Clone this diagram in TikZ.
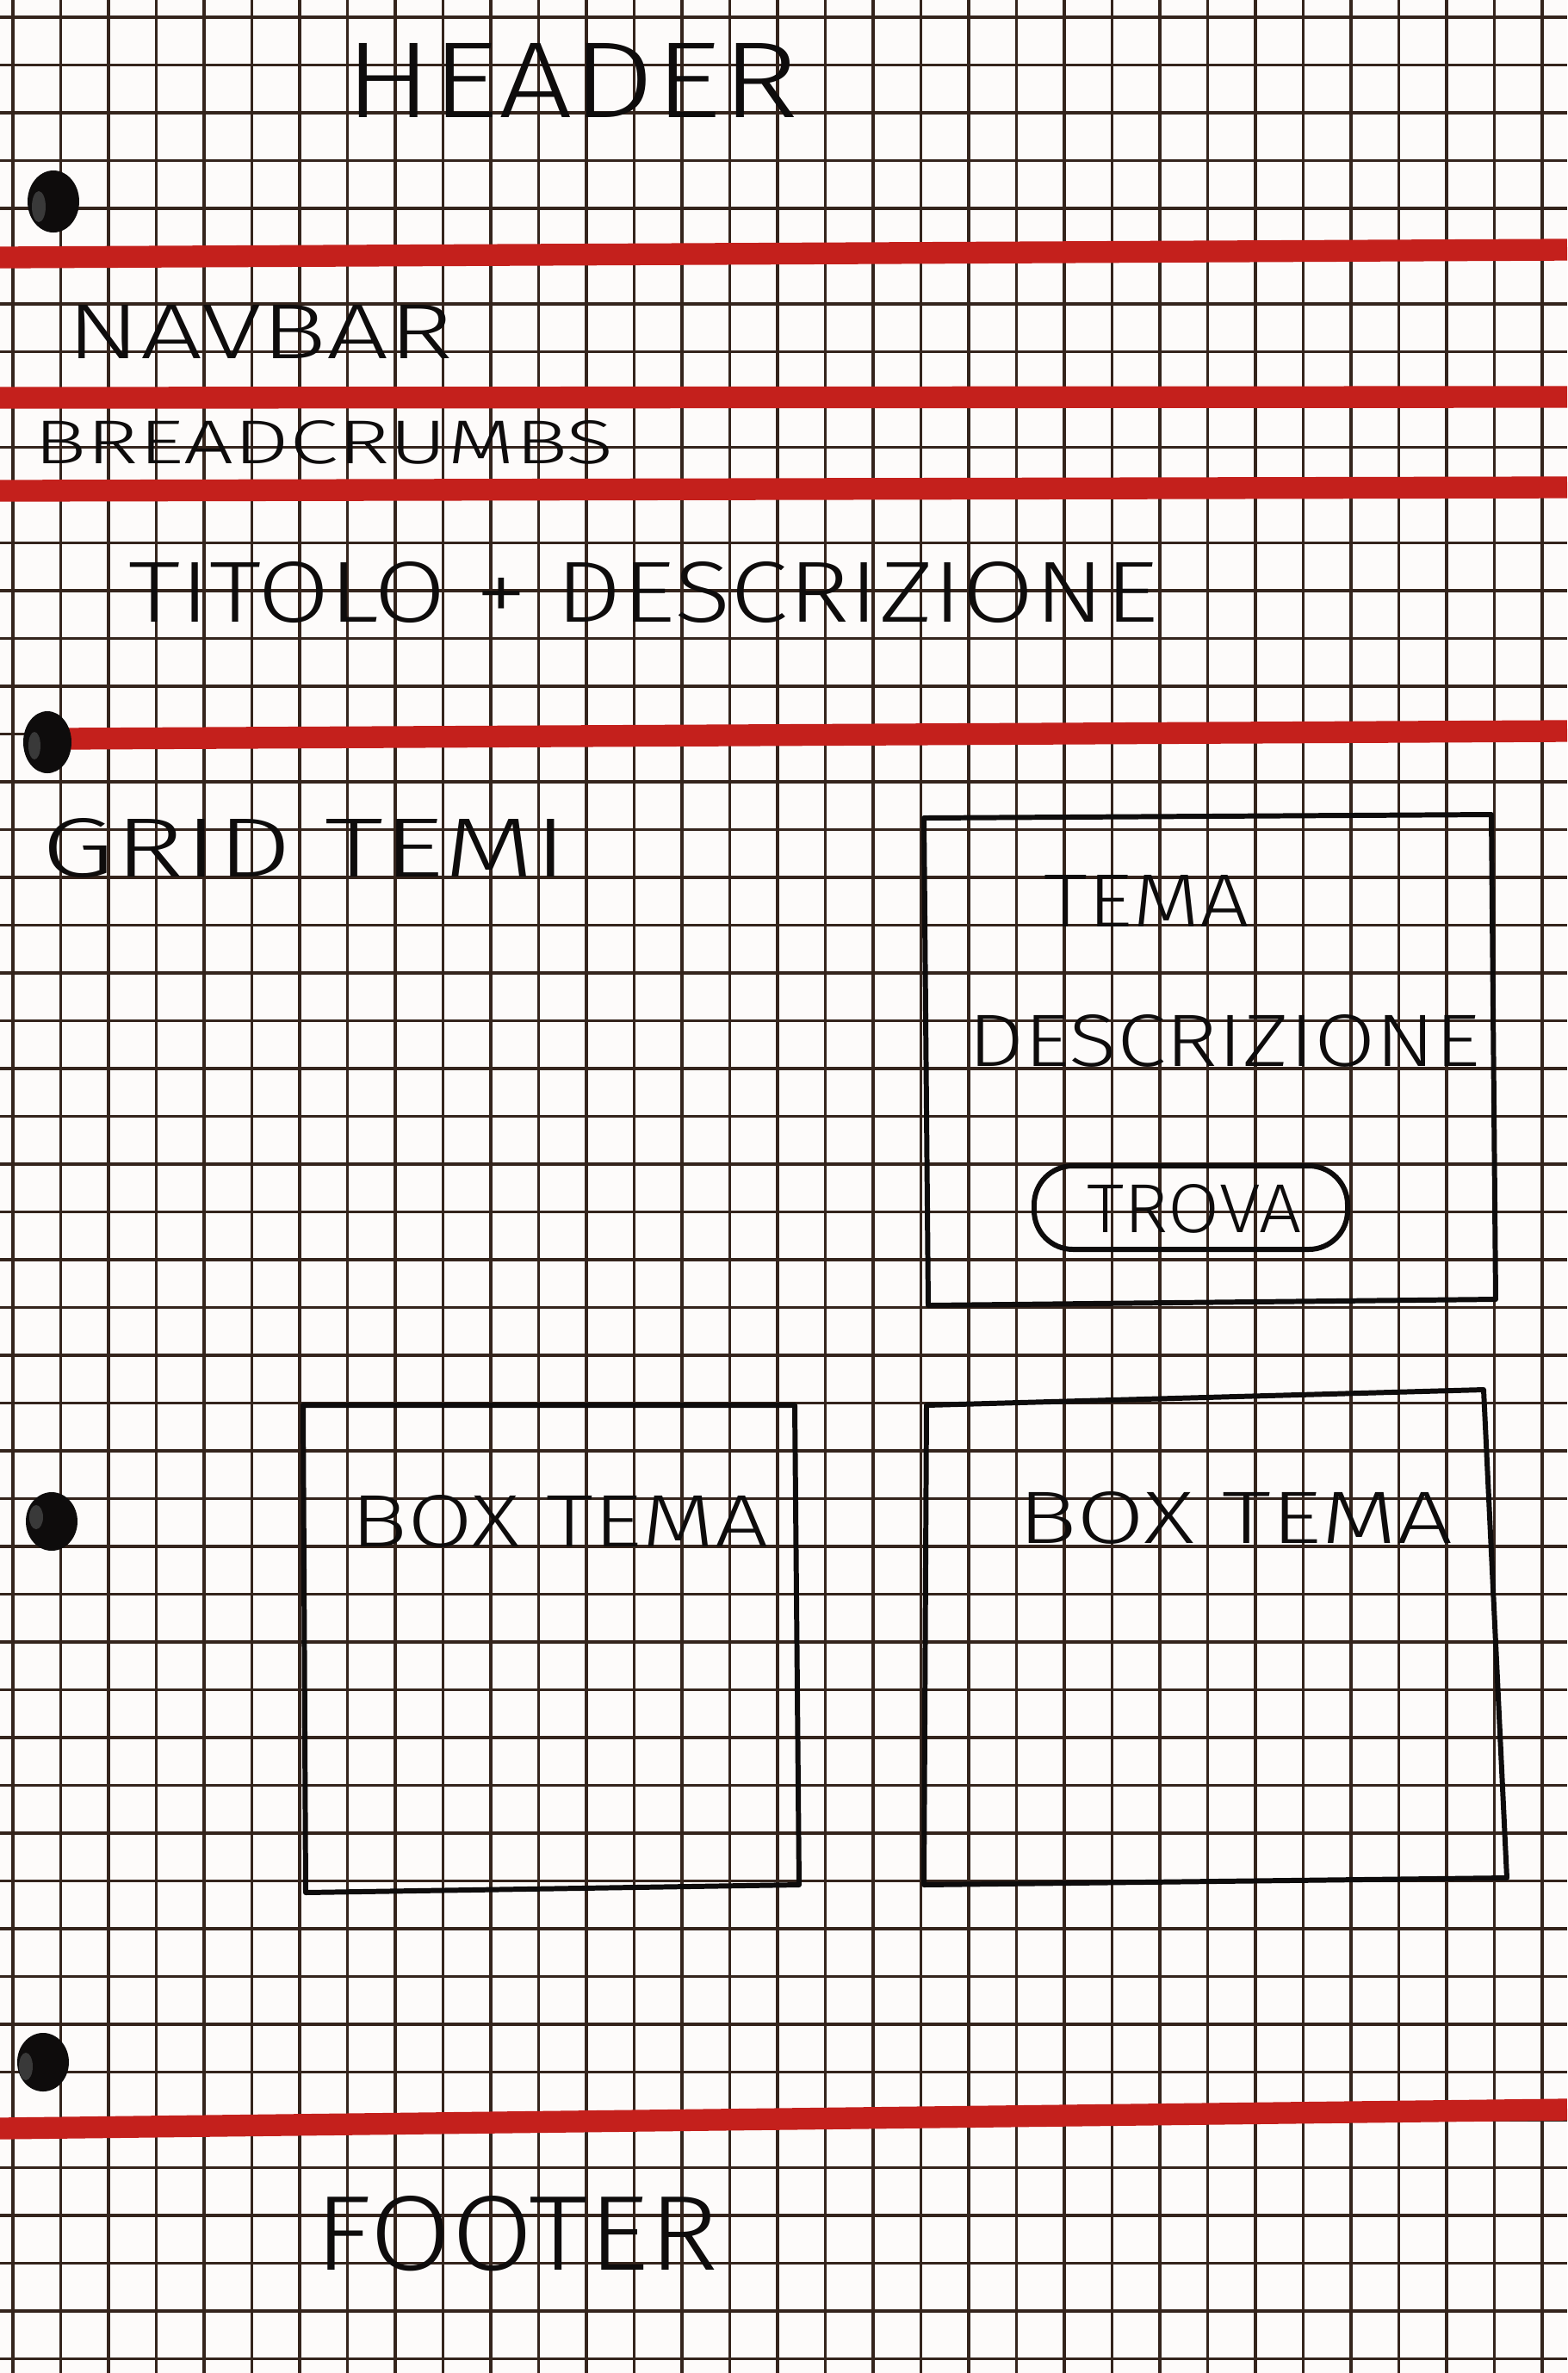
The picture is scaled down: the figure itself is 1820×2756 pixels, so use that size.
\documentclass[tikz,border=0pt]{standalone}
\usepackage{fontspec}
\setmainfont{Fira Sans}[UprightFont={* Light}]
\usepackage{graphicx}
\definecolor{paper}{RGB}{253,251,250}
\definecolor{gridc}{RGB}{52,36,28}
\definecolor{redmark}{RGB}{196,32,28}
\definecolor{ink}{RGB}{14,12,12}
\newcommand{\fitt}[3]{\resizebox{#1cm}{#2cm}{#3}}
\tikzset{
  gridline/.style={draw=gridc, line width=1.05pt},
  redline/.style={draw=redmark, line width=7.2pt},
  handline/.style={draw=ink, line width=1.7pt, line join=round, line cap=round},
  hand/.style={inner sep=0pt, outer sep=0pt, text=ink},
  hole/.style={fill=ink},
  holelight/.style={fill=gray!45!black}
}
\begin{document}
\begin{tikzpicture}[x=0.01cm,y=-0.01cm]
\useasboundingbox (0,0) rectangle (1820,2756);
\fill[paper] (0,0) rectangle (1820,2756);
% grid paper
\foreach \k in {0,...,32} \draw[gridline] ({15+55.5*\k},0) -- ({15+55.5*\k},2756);
\foreach \k in {0,...,49} \draw[gridline] (0,{20+55.5*\k}) -- (1820,{20+55.5*\k});
% red separators
\draw[redline] (0,299) -- (1820,290);
\draw[redline] (0,462) -- (1820,461);
\draw[redline] (0,570) -- (1820,566);
\draw[redline] (70,858) -- (1820,849);
\draw[redline] (0,2472) -- (1820,2450);
% punch holes
\fill[hole] (62,234) ellipse (30 and 36);
\fill[holelight] (45,240) ellipse (8 and 18);
\fill[hole] (55,862) ellipse (28 and 36);
\fill[holelight] (40,866) ellipse (7 and 16);
\fill[hole] (60,1767) ellipse (30 and 34);
\fill[holelight] (42,1762) ellipse (8 and 14);
\fill[hole] (50,2395) ellipse (30 and 34);
\fill[holelight] (30,2400) ellipse (8 and 16);
% labels
\node[hand] (header) at (664,93) {\fitt{5.27}{0.86}{HEADER}};
\node[hand] (navbar) at (302,385) {\fitt{4.48}{0.62}{NAVBAR}};
\node[hand] (breadcrumbs) at (376,514) {\fitt{6.73}{0.50}{BREADCRUMBS}};
\node[hand] (titolo) at (747,688) {\fitt{11.95}{0.70}{TITOLO + DESCRIZIONE}};
\node[hand] (gridtemi) at (354,985) {\fitt{6.10}{0.68}{GRID TEMI}};
% theme card
\draw[handline] (1073,950) -- (1732,946) -- (1737,1509) -- (1078,1516) -- cycle;
\node[hand] (tema) at (1332,1046) {\fitt{2.38}{0.60}{TEMA}};
\node[hand] (descrizione) at (1422,1209) {\fitt{5.95}{0.60}{DESCRIZIONE}};
\node[hand] (trova) at (1387,1404) {\fitt{2.49}{0.56}{TROVA}};
\draw[handline, rounded corners=0.45cm] (1201,1354) rectangle (1565,1451);
% theme boxes
\draw[handline] (352,1632) -- (923,1632) -- (928,2189) -- (355,2198) -- cycle;
\node[hand] (boxtema1) at (650,1767) {\fitt{4.85}{0.60}{BOX TEMA}};
\draw[handline] (1076,1632) -- (1723,1614) -- (1750,2181) -- (1073,2189) -- cycle;
\node[hand] (boxtema2) at (1435,1763) {\fitt{5.05}{0.60}{BOX TEMA}};
% footer
\node[hand] (footer) at (600,2594) {\fitt{4.69}{0.86}{FOOTER}};
\end{tikzpicture}
\end{document}
